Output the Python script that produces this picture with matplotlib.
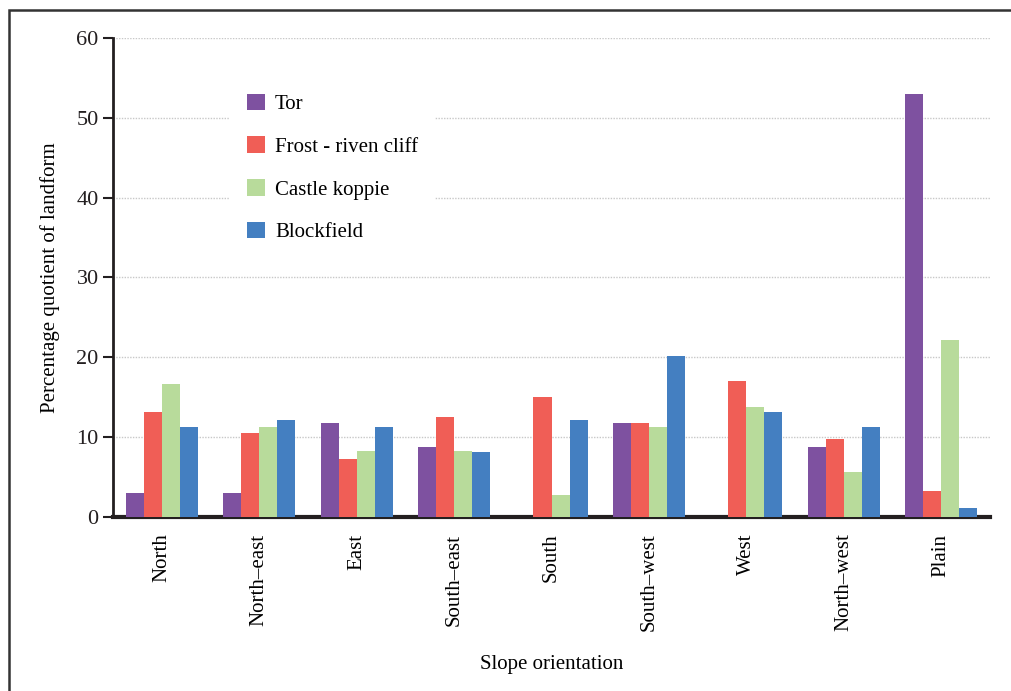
import numpy as np
import matplotlib
matplotlib.use('Agg')
import matplotlib.pyplot as plt
from matplotlib.patches import Rectangle

orientations = ['North', 'North\u2013east', 'East', 'South\u2013east', 'South',
                'South\u2013west', 'West', 'North\u2013west', 'Plain']
tor = [3.0, 3.0, 11.7, 8.7, 0.0, 11.7, 0.0, 8.7, 53.0]
frost = [13.2, 10.5, 7.2, 12.5, 15.0, 11.7, 17.0, 9.8, 3.3]
castle = [16.7, 11.3, 8.3, 8.3, 2.7, 11.2, 13.8, 5.6, 22.2]
blockfield = [11.3, 12.1, 11.3, 8.1, 12.1, 20.2, 13.1, 11.2, 1.1]

series = [('Tor', tor, '#7e51a0'),
          ('Frost - riven cliff', frost, '#f05e56'),
          ('Castle koppie', castle, '#b8db9b'),
          ('Blockfield', blockfield, '#447fc1')]

plt.rcParams['font.family'] = ['Liberation Serif', 'DejaVu Serif']

fig = plt.figure(figsize=(10.11, 6.91), dpi=100)
ax = fig.add_axes([0.112, 0.252, 0.867, 0.693])

x = np.arange(len(orientations))
w = 0.185
for i, (name, vals, col) in enumerate(series):
    ax.bar(x + (i - 1.5) * w, vals, w, color=col, label=name, zorder=3)

ax.set_xlim(-0.5, len(orientations) - 0.5)
ax.set_ylim(0, 60)
ax.set_yticks(range(0, 61, 10))
ax.set_xticks(x)
ax.set_xticklabels(orientations, rotation=90, fontsize=15)
ax.tick_params(axis='x', length=0, pad=12)
ax.tick_params(axis='y', labelsize=16, length=7, width=1.5, direction='out', colors='#231f20')
ax.yaxis.grid(True, linestyle=(0, (1, 1)), color='#c8c8c8', linewidth=1)
ax.set_axisbelow(True)

for s in ['top', 'right']:
    ax.spines[s].set_visible(False)
ax.spines['left'].set_linewidth(2)
ax.spines['bottom'].set_linewidth(3)
ax.spines['left'].set_color('#231f20')
ax.spines['bottom'].set_color('#231f20')

ax.set_ylabel('Percentage quotient of landform', fontsize=15, labelpad=12)
ax.set_xlabel('Slope orientation', fontsize=15, labelpad=17)

leg = ax.legend(loc='upper left', bbox_to_anchor=(0.1215, 0.94), fontsize=15,
                frameon=True, framealpha=1, edgecolor='none', fancybox=False,
                handlelength=0.85, handleheight=0.85, handletextpad=0.5,
                labelspacing=1.06, borderpad=0.8)
leg.set_zorder(5)

# frame around the figure
fig.patches.append(Rectangle((0.009, -0.1), 1.2, 1.0855, transform=fig.transFigure,
                             fill=False, edgecolor='#333333', linewidth=1.8))

fig.savefig('out.png', dpi=100)
